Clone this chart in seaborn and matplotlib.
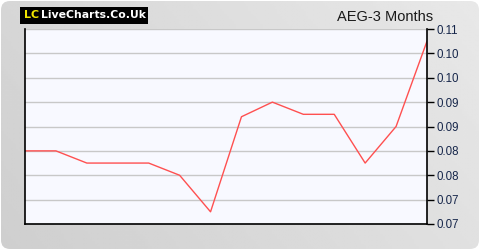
import numpy as np
import pandas as pd
import matplotlib
matplotlib.use("Agg")
import matplotlib.pyplot as plt
import seaborn as sns
from matplotlib.patches import FancyBboxPatch

# data
days = list(range(14))
prices = [0.085, 0.085, 0.0825, 0.0825, 0.0825, 0.08, 0.0725, 0.092,
          0.095, 0.0925, 0.0925, 0.0825, 0.09, 0.1075]
tick_values = [0.07, 0.075, 0.08, 0.085, 0.09, 0.095, 0.10, 0.105, 0.11]
tick_labels = ["0.07", "0.07", "0.08", "0.08", "0.09", "0.09", "0.10", "0.10", "0.11"]
title = "AEG-3 Months"

sns.set_style("white")
plt.rcParams['font.family'] = ['Liberation Sans', 'DejaVu Sans']

fig = plt.figure(figsize=(4.8, 2.5), dpi=100)
fig.patch.set_facecolor("white")

# background with gradient and rounded corners
bg = fig.add_axes([0, 0, 1, 1])
bg.set_xlim(0, 480)
bg.set_ylim(0, 250)
bg.axis("off")
gx = np.linspace(0, 1, 200)
gy = np.linspace(0, 1, 100)
GX, GY = np.meshgrid(gx, gy)
grad = 0.81 + 0.10 * (0.7 * GX + 0.3 * GY)
grad = np.clip(grad, 0, 1)
im = bg.imshow(grad, cmap="gray", vmin=0, vmax=1, extent=[0, 480, 0, 250],
               origin="lower", aspect="auto", zorder=0)
clip = FancyBboxPatch((1, 1), 478, 248, boxstyle="round,pad=0,rounding_size=9",
                      transform=bg.transData, facecolor="none", edgecolor="none")
bg.add_patch(clip)
im.set_clip_path(clip)

# logo
bg.add_patch(plt.Rectangle((20, 226), 128, 17, facecolor="black", edgecolor="none", zorder=2))
bg.text(24, 234.5, "LC", color="#f2e600", fontsize=8, fontweight="bold", va="center", ha="left",
        zorder=3, family=["DejaVu Sans"])
bg.text(41, 234.5, "LiveCharts.Co.Uk", color="white", fontsize=7.8, fontweight="bold",
        va="center", ha="left", zorder=3, family=["DejaVu Sans"])

# title
bg.text(433, 233, title, color="#1a1a1a", fontsize=10.5, ha="right", va="center", zorder=3)

ax = fig.add_axes([25 / 480, 26 / 250, 402 / 480, 195 / 250])
ax.set_facecolor("#f8f9ff")
df = pd.DataFrame({"day": days, "price": prices})
sns.lineplot(data=df, x="day", y="price", ax=ax, color="#ff5050", linewidth=1.0)

ax.set_xlim(0, 13)
ax.set_ylim(0.07, 0.11)
ax.set_xticks([])
ax.set_yticks(tick_values)
ax.set_yticklabels(tick_labels)
ax.yaxis.tick_right()
ax.tick_params(axis="y", direction="out", length=5, width=1, color="black",
               labelsize=8.3, labelcolor="#16264a", pad=2, right=True, left=False)
ax.set_xlabel("")
ax.set_ylabel("")
ax.grid(axis="y", color="#c8c8c8", linewidth=1)
ax.set_axisbelow(True)
for side in ["left", "bottom", "right"]:
    ax.spines[side].set_visible(True)
    ax.spines[side].set_color("black")
    ax.spines[side].set_linewidth(1.2)
ax.spines["top"].set_visible(False)

fig.savefig("out.png", dpi=100)
